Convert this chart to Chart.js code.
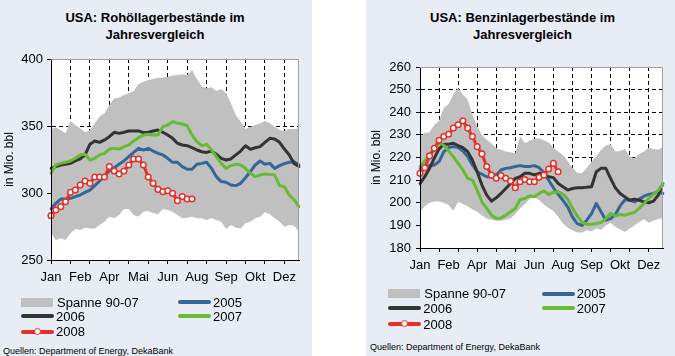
<!DOCTYPE html>
<html><head><meta charset="utf-8">
<script src="https://cdn.jsdelivr.net/npm/chart.js@4.4.1/dist/chart.umd.min.js"></script>
<style>
body{margin:0;width:675px;height:356px;position:relative;background:#fff;font-family:"Liberation Sans",Arial,sans-serif;overflow:hidden}
.panel{position:absolute;top:0;height:356px;background:#E8ECF5}
.title{position:absolute;top:8.5px;font-weight:bold;font-size:13px;line-height:17.7px;text-align:center;color:#000}
.lg{position:absolute;font-size:13px;line-height:15px;color:#000;white-space:nowrap}
.sw{position:absolute}
.src{position:absolute;font-size:9px;line-height:11px;white-space:nowrap;color:#000}
canvas{position:absolute;top:0}
</style></head><body>
<div class="panel" style="left:0;width:312px"></div>
<div class="panel" style="left:366px;width:309px"></div>
<div class="title" style="left:0;width:310px">USA: Rohöllagerbestände im<br>Jahresvergleich</div>
<div class="title" style="left:366px;width:313px">USA: Benzinlagerbestände im<br>Jahresvergleich</div>
<canvas id="c1" width="312" height="292" style="left:0;width:312px;height:292px"></canvas>
<canvas id="c2" width="309" height="292" style="left:366px;width:309px;height:292px"></canvas>
<div class="src" style="left:3px;top:345.5px">Quellen: Department of Energy, DekaBank</div>
<div class="src" style="left:370px;top:342px">Quellen: Department of Energy, DekaBank</div>
<script>
const weeks = [1,2,3,4,5,6,7,8,9,10,11,12,13,14,15,16,17,18,19,20,21,22,23,24,25,26,27,28,29,30,31,32,33,34,35,36,37,38,39,40,41,42,43,44,45,46,47,48,49,50,51,52];
const monthTicks = ['Jan','Feb','Apr','Mai','Jun','Aug','Sep','Okt','Dez'];
const seriesNames = ['Spanne 90-07','2005','2006','2007','2008'];
const yTitle = 'in Mio. bbl';

// Rohöl (Mio. bbl)
const crudeMax = [347.8,348.8,346.8,344.5,353.7,350.7,348.3,345.3,347.0,352.0,357.0,359.5,365.7,370.6,371.1,373.1,374.4,376.1,381.1,383.1,384.3,385.1,386.1,386.1,386.8,387.6,388.1,388.6,388.1,391.8,385.1,379.4,378.1,378.9,376.1,377.6,374.4,366.9,358.2,353.2,347.8,349.5,350.7,352.0,353.7,352.0,349.5,347.0,346.3,347.8,347.8,348.3];
const crudeMin = [269.9,264.9,266.2,264.9,269.9,273.1,272.4,274.1,273.6,273.6,276.1,278.6,282.3,281.1,283.6,288.1,288.1,283.6,282.3,286.1,286.6,284.8,284.1,288.1,287.3,286.1,283.6,281.1,281.6,282.3,281.1,281.1,279.9,281.1,279.9,278.6,273.1,276.1,274.1,273.6,277.4,278.6,281.1,282.3,285.6,284.1,281.1,278.6,274.9,276.1,275.6,271.1];
const crude2005 = [288.1,292.3,295.5,295.5,296.0,297.3,298.5,300.5,302.2,305.5,309.0,312.9,316.4,318.9,321.4,323.9,327.1,330.3,333.3,332.1,333.3,331.3,329.6,328.4,325.9,322.9,322.9,319.7,317.7,317.7,321.4,322.1,322.9,318.4,312.2,308.5,308.0,306.0,305.5,307.2,311.4,315.9,320.9,323.9,321.4,322.1,318.4,320.4,321.9,322.9,323.4,320.9];
const crude2006 = [318.4,319.7,320.9,321.4,322.1,323.9,325.4,328.4,336.3,338.8,337.8,339.6,342.0,345.3,344.5,345.3,346.3,346.3,346.3,345.0,345.3,346.3,347.0,345.3,343.3,340.8,337.1,335.8,335.3,333.8,332.1,330.8,330.3,331.3,328.9,325.9,324.6,325.4,328.4,331.3,335.3,332.6,333.8,334.6,337.8,340.8,340.3,337.8,332.8,328.4,322.1,319.7];
const crude2007 = [314.7,320.9,322.1,322.9,323.9,325.9,328.4,328.9,324.6,325.9,328.4,329.6,332.8,333.3,332.8,334.6,335.8,338.8,341.3,343.3,343.8,343.3,343.3,349.5,350.7,353.2,352.0,351.5,350.2,343.3,338.3,335.3,336.3,332.1,327.1,322.1,318.4,320.4,321.6,320.9,318.4,314.7,312.2,313.4,314.2,313.9,313.4,305.5,304.7,298.5,294.8,289.8];
const crude2008 = [283.1,287.3,289.8,293.5,300.5,302.2,306.0,309.0,307.2,311.9,311.9,311.9,319.7,316.4,314.2,316.4,320.9,325.4,325.4,320.9,311.9,307.2,302.7,301.0,301.7,299.8,294.3,297.3,295.5,295.5];

// Benzin (Mio. bbl)
const gasMax = [229.3,230.8,231.2,234.5,236.2,241.9,243.6,247.8,250.7,247.8,245.5,238.9,233.7,230.0,227.8,226.3,224.1,223.4,222.6,222.3,221.9,229.3,226.3,227.4,228.2,228.5,227.6,226.6,224.4,222.6,221.1,218.5,215.5,213.3,213.0,215.5,218.2,220.4,223.4,225.3,225.9,222.6,222.9,223.8,220.4,219.7,221.5,222.6,224.4,223.8,223.4,224.8];
const gasMin = [196.0,198.5,200.0,200.5,200.5,200.0,199.0,196.5,200.5,199.5,198.5,197.0,196.0,194.5,193.0,192.5,192.0,192.0,192.5,193.0,195.0,197.5,199.5,201.5,202.5,201.2,199.2,197.7,196.3,193.8,190.8,188.9,187.8,186.8,186.8,187.8,187.4,188.6,188.1,190.0,191.2,189.3,188.3,187.1,188.6,190.0,191.5,192.7,191.2,192.2,192.7,193.3];
const gas2005 = [215.2,216.0,216.4,216.7,218.2,222.6,224.4,224.8,224.4,222.9,220.4,216.7,213.7,212.6,211.5,211.5,212.3,214.5,215.2,215.5,216.0,216.4,216.0,216.0,216.4,215.5,213.3,210.0,206.6,203.7,201.1,198.2,193.7,190.8,190.0,192.3,195.2,199.7,196.0,192.3,193.0,194.8,198.6,201.2,201.2,200.4,201.6,202.9,203.7,204.1,204.9,204.1];
const gas2006 = [208.5,211.5,215.2,219.7,223.8,225.9,225.9,226.3,225.3,224.4,222.6,218.9,213.7,207.8,203.4,200.7,202.2,204.1,206.3,208.5,210.8,211.5,213.0,213.0,212.3,213.0,212.7,211.5,211.1,208.5,207.1,205.6,206.3,206.6,206.6,206.9,207.1,213.7,215.2,215.2,210.8,206.6,204.1,202.6,201.1,201.6,201.1,200.4,200.0,200.7,203.4,208.5];
const gas2007 = [216.0,218.5,221.0,223.8,226.5,225.4,222.9,220.4,217.4,214.5,210.8,210.0,205.6,200.4,197.5,194.5,193.0,193.3,194.5,196.0,197.5,201.4,201.9,203.1,202.6,204.1,205.3,203.7,204.6,204.9,203.7,201.6,197.5,194.2,191.3,190.5,190.5,190.8,191.3,193.0,195.3,194.2,194.8,194.5,195.2,195.7,197.5,199.7,201.9,203.7,205.5,208.5];
const gas2008 = [213.0,215.5,220.7,224.1,227.6,229.3,230.3,233.0,234.5,236.2,233.0,229.3,224.8,221.6,216.0,212.2,210.8,212.0,210.8,209.6,206.6,209.3,210.3,209.3,209.3,211.3,212.2,214.9,217.4,213.7];

const F = '"Liberation Sans", Arial, sans-serif';
const COL = {band:'#C0C0C0', y2005:'#336699', y2006:'#333333', y2007:'#66BB33', y2008:'#E8302A'};

const framePlugin = {
  id: 'frame',
  beforeDraw(chart) {
    const {ctx, chartArea: a} = chart;
    ctx.save(); ctx.fillStyle = '#fff';
    ctx.fillRect(a.left, a.top, a.right - a.left, a.bottom - a.top);
    ctx.restore();
  },
  afterDraw(chart) {
    const {ctx, chartArea: a} = chart;
    ctx.save(); ctx.strokeStyle = '#A0A0A0'; ctx.lineWidth = 1;
    const t = Math.round(a.top) + 0.5, r = Math.round(a.right) - 0.5;
    ctx.beginPath(); ctx.moveTo(a.left, t); ctx.lineTo(r, t); ctx.lineTo(r, a.bottom); ctx.stroke();
    ctx.restore();
  }
};

function lineDs(label, data, color, order) {
  return {label, data, borderColor: color, borderWidth: 3, pointRadius: 0, tension: 0,
    borderJoinStyle: 'round', borderCapStyle: 'round', fill: false, order};
}

function makeChart(id, s) {
  const datasets = [
    {label: 'min', data: s.min, borderColor: 'transparent', borderWidth: 0, pointRadius: 0, backgroundColor: '#FFFFFF', fill: 'start', order: 4},
    {label: seriesNames[0], data: s.max, borderColor: 'transparent', borderWidth: 0, pointRadius: 0, backgroundColor: COL.band, fill: 'start', order: 5},
    lineDs(seriesNames[1], s.d5, COL.y2005, 3),
    lineDs(seriesNames[2], s.d6, COL.y2006, 2),
    lineDs(seriesNames[3], s.d7, COL.y2007, 1),
    Object.assign(lineDs(seriesNames[4], s.d8, COL.y2008, 0), {pointRadius: 2.8, pointBorderWidth: 1.5, pointBackgroundColor: '#fff', pointBorderColor: COL.y2008})
  ];
  return new Chart(document.getElementById(id), {
    type: 'line',
    data: {labels: weeks, datasets},
    plugins: [framePlugin],
    options: {
      responsive: false, animation: false, events: [],
      layout: {padding: s.pad},
      plugins: {legend: {display: false}, tooltip: {enabled: false}, title: {display: false}},
      scales: {
        x: {
          type: 'category', offset: false,
          afterFit: sc => { sc.height = s.xH; },
          ticks: {autoSkip: false, maxRotation: 0, minRotation: 0, padding: 5.5, color: '#000', font: {family: F, size: 13},
            callback: (v, i) => i % 6 === 0 ? monthTicks[i / 6] : ''},
          grid: {color: c => (c.index % 4 === 0 && c.index > 0) ? '#000' : 'rgba(0,0,0,0)',
            tickColor: c => c.index % 4 === 0 ? '#000' : 'rgba(0,0,0,0)', tickLength: 4, lineWidth: 1},
          border: {color: '#000', width: 1, dash: [4, 3], z: 1}
        },
        y: {
          min: s.yMin, max: s.yMax,
          afterFit: sc => { sc.width = s.yW; },
          ticks: {stepSize: s.step, padding: s.yPad, color: '#000', font: {family: F, size: 13}},
          grid: {color: c => (c.tick.value === s.yMin || c.tick.value === s.yMax) ? 'rgba(0,0,0,0)' : '#000',
            tickColor: '#000', tickLength: 4, lineWidth: 1},
          border: {color: '#000', width: 1, dash: [4, 3], z: 1},
          title: {display: true, text: yTitle, color: '#000', font: {family: F, size: 12}, padding: {top: s.tPad, bottom: 0}}
        }
      }
    }
  });
}

makeChart('c1', {min: crudeMin, max: crudeMax, d5: crude2005, d6: crude2006, d7: crude2007, d8: crude2008,
  yMin: 250, yMax: 400, step: 50, yW: 51, xH: 32, yPad: 4, tPad: 2.8, pad: {left: 0, right: 13, top: 59, bottom: 0}});
makeChart('c2', {min: gasMin, max: gasMax, d5: gas2005, d6: gas2006, d7: gas2007, d8: gas2008,
  yMin: 180, yMax: 260, step: 10, yW: 54, xH: 44, yPad: 5, tPad: 3.6, pad: {left: 0, right: 12, top: 67, bottom: 0}});

function addLegend(x0, x1, rows) {
  const colors = [COL.band, COL.y2005, COL.y2006, COL.y2007, COL.y2008];
  const place = [[x0, rows[0]], [x1, rows[0]], [x0, rows[1]], [x1, rows[1]], [x0, rows[2]]];
  seriesNames.forEach((name, k) => {
    const [x, y] = place[k];
    const sw = document.createElement('div');
    sw.className = 'sw';
    if (k === 0) {
      Object.assign(sw.style, {left: x + 'px', top: (y - 4.5) + 'px', width: '32px', height: '9px', background: colors[k]});
    } else {
      Object.assign(sw.style, {left: x + 'px', top: (y - 2) + 'px', width: '33px', height: '4px', borderRadius: '2px', background: colors[k]});
    }
    document.body.appendChild(sw);
    if (k === 4) {
      const m = document.createElement('div');
      m.className = 'sw';
      Object.assign(m.style, {left: (x + 12.5) + 'px', top: (y - 4) + 'px', width: '5px', height: '5px', borderRadius: '50%', background: '#fff', border: '1.5px solid ' + colors[k]});
      document.body.appendChild(m);
    }
    const t = document.createElement('div');
    t.className = 'lg';
    t.textContent = name;
    Object.assign(t.style, {left: (x + (k === 0 ? 36 : 35)) + 'px', top: (y - 7.5) + 'px'});
    document.body.appendChild(t);
  });
}
addLegend(21, 178, [302, 316, 331.5]);
addLegend(388.3, 541.7, [293.5, 308.3, 324]);
</script>
</body></html>
